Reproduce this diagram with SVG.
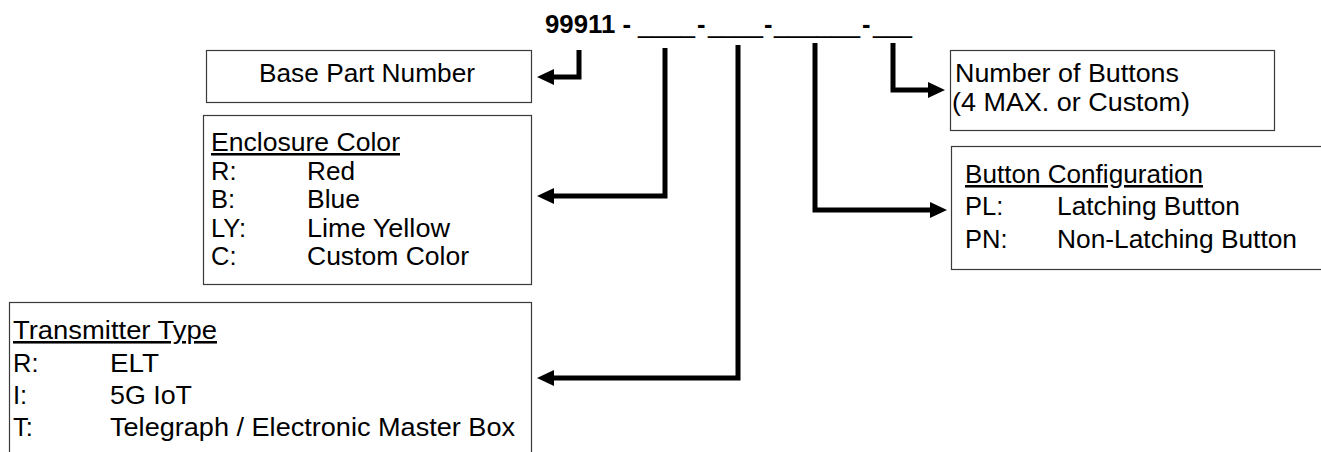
<svg xmlns="http://www.w3.org/2000/svg" width="1321" height="452" viewBox="0 0 1321 452">
<style>
.t{font-family:"Liberation Sans",Arial,sans-serif;font-size:25.5px;fill:#000}
.h{text-decoration:underline}
.b{font-weight:bold;font-size:25.5px}
.box{fill:#fff;stroke:#3a3a3a;stroke-width:1.2}
.c{fill:none;stroke:#000;stroke-width:5;stroke-linejoin:miter}
</style>
<defs>
<marker id="ah" viewBox="0 0 17 16" refX="0" refY="8" markerWidth="17" markerHeight="16" markerUnits="userSpaceOnUse" orient="auto">
<path d="M0,0 L17,8 L0,16 z" fill="#000"/>
</marker>
</defs>
<g id="title">
<text class="t b" y="33"><tspan x="545" textLength="86" lengthAdjust="spacingAndGlyphs">99911 -</tspan><tspan x="638" font-weight="normal" textLength="57" lengthAdjust="spacingAndGlyphs">____</tspan><tspan x="697">-</tspan><tspan x="708" font-weight="normal" textLength="55" lengthAdjust="spacingAndGlyphs">____</tspan><tspan x="764">-</tspan><tspan x="774" font-weight="normal" textLength="86" lengthAdjust="spacingAndGlyphs">______</tspan><tspan x="862">-</tspan><tspan x="873" font-weight="normal" textLength="39" lengthAdjust="spacingAndGlyphs">___</tspan></text>
</g>
<g id="base">
<rect class="box" x="206.5" y="50.5" width="325" height="52"/>
<text class="t" x="259" y="82" textLength="216" lengthAdjust="spacingAndGlyphs">Base Part Number</text>
</g>
<g id="enclosure">
<rect class="box" x="203.5" y="115.5" width="328" height="169"/>
<text class="t h" x="211" y="151" textLength="189" lengthAdjust="spacingAndGlyphs">Enclosure Color</text>
<text class="t" x="211" y="180">R:</text><text class="t" x="307" y="180" textLength="48" lengthAdjust="spacingAndGlyphs">Red</text>
<text class="t" x="211" y="208">B:</text><text class="t" x="307" y="208" textLength="53" lengthAdjust="spacingAndGlyphs">Blue</text>
<text class="t" x="211" y="237">LY:</text><text class="t" x="307" y="237" textLength="143" lengthAdjust="spacingAndGlyphs">Lime Yellow</text>
<text class="t" x="211" y="265">C:</text><text class="t" x="307" y="265" textLength="162" lengthAdjust="spacingAndGlyphs">Custom Color</text>
</g>
<g id="transmitter">
<rect class="box" x="9.5" y="302.5" width="522" height="170"/>
<text class="t h" x="13" y="339" textLength="204" lengthAdjust="spacingAndGlyphs">Transmitter Type</text>
<text class="t" x="13" y="372">R:</text><text class="t" x="110" y="372" textLength="49" lengthAdjust="spacingAndGlyphs">ELT</text>
<text class="t" x="13" y="404">I:</text><text class="t" x="110" y="404" textLength="82" lengthAdjust="spacingAndGlyphs">5G IoT</text>
<text class="t" x="13" y="436">T:</text><text class="t" x="110" y="436" textLength="405" lengthAdjust="spacingAndGlyphs">Telegraph / Electronic Master Box</text>
</g>
<g id="buttons">
<rect class="box" x="950.5" y="50.5" width="324" height="80"/>
<text class="t" x="955" y="82" textLength="224" lengthAdjust="spacingAndGlyphs">Number of Buttons</text>
<text class="t" x="952" y="111" textLength="238" lengthAdjust="spacingAndGlyphs">(4 MAX. or Custom)</text>
</g>
<g id="config">
<rect class="box" x="951.5" y="146.5" width="380" height="123"/>
<text class="t h" x="965" y="183" textLength="238" lengthAdjust="spacingAndGlyphs">Button Configuration</text>
<text class="t" x="965" y="215">PL:</text><text class="t" x="1057" y="215" textLength="183" lengthAdjust="spacingAndGlyphs">Latching Button</text>
<text class="t" x="965" y="248">PN:</text><text class="t" x="1057" y="248" textLength="240" lengthAdjust="spacingAndGlyphs">Non-Latching Button</text>
</g>
<g id="connectors">
<path class="c" d="M579,50 V77 H554" marker-end="url(#ah)"/>
<path class="c" d="M665,48 V196 H554" marker-end="url(#ah)"/>
<path class="c" d="M738,45 V378 H554" marker-end="url(#ah)"/>
<path class="c" d="M815,43 V210 H930" marker-end="url(#ah)"/>
<path class="c" d="M893,43 V90 H928" marker-end="url(#ah)"/>
</g>
</svg>
